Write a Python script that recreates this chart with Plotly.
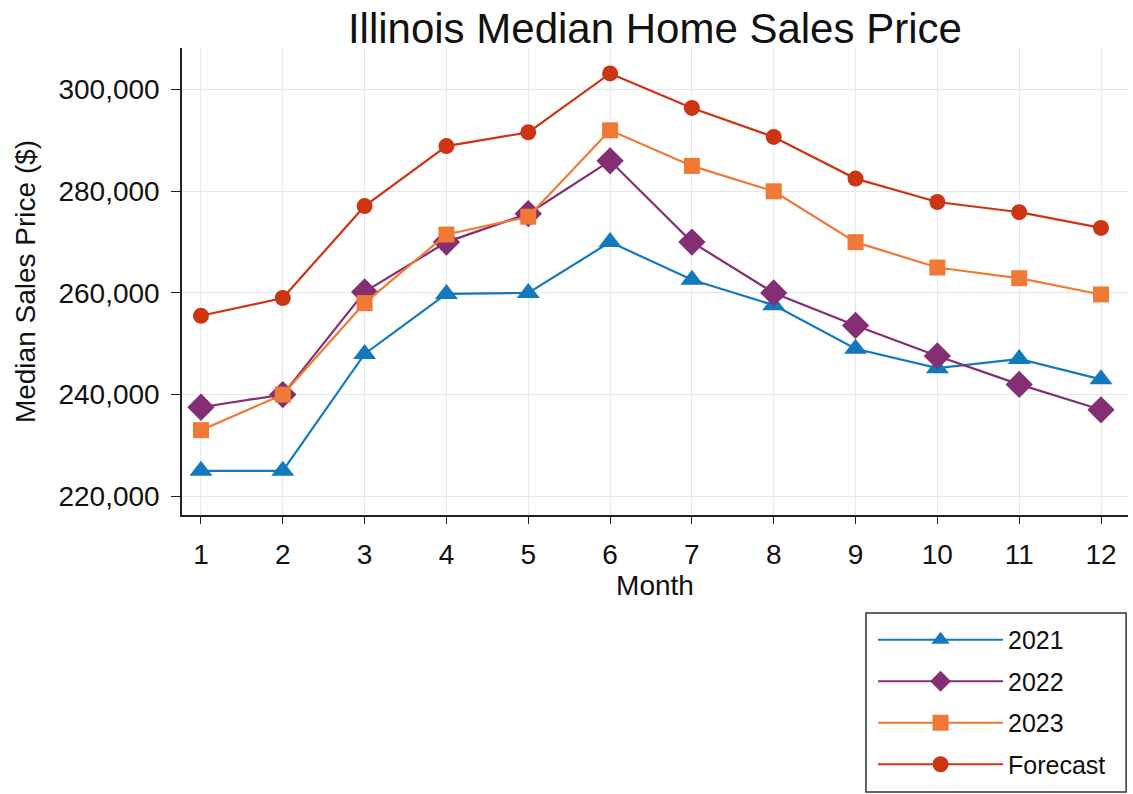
import plotly.graph_objects as go

months = [1, 2, 3, 4, 5, 6, 7, 8, 9, 10, 11, 12]
y2021 = [225000, 225000, 248000, 259800, 260000, 270000, 262600, 257600, 249000, 245200, 247000, 243000]
y2022 = [237500, 240000, 260200, 270000, 275600, 286000, 270000, 260000, 253600, 247600, 242000, 237000]
y2023 = [233000, 240000, 258000, 271500, 275000, 292000, 285000, 280000, 270000, 265000, 262900, 259700]
forecast = [255500, 259000, 277100, 288900, 291600, 303200, 296400, 290700, 282500, 277900, 275900, 272800]
series_names = ["2021", "2022", "2023", "Forecast"]
y_ticks = [220000, 240000, 260000, 280000, 300000]

colors = ["#1379bd", "#852e74", "#f07a35", "#cc3412"]
symbols = ["triangle-up", "diamond", "square", "circle"]
sizes = [20, 21, 16, 16]

fig = go.Figure()
for i, (name, vals) in enumerate(zip(series_names, [y2021, y2022, y2023, forecast])):
    fig.add_trace(go.Scatter(
        x=months, y=vals, name=name, mode="lines+markers",
        line=dict(color=colors[i], width=2.2),
        marker=dict(symbol=symbols[i], size=sizes[i], color=colors[i]),
        legendgroup=name,
    ))

# legend frame (paper coordinates)
fig.add_shape(type="rect", xref="paper", yref="paper",
              x0=0.723, x1=0.998, y0=-0.593, y1=-0.2099,
              line=dict(color="#333333", width=1.5), fillcolor="white", layer="below")

font_family = "Arial, Liberation Sans, sans-serif"
fig.update_layout(
    width=1133, height=794,
    paper_bgcolor="white", plot_bgcolor="white",
    margin=dict(l=182, r=5, t=48, b=279, autoexpand=False),
    font=dict(family=font_family, color="#111111", size=28),
    title=dict(text="Illinois Median Home Sales Price", x=0.578, xanchor="center",
               y=0.9647, yanchor="middle", font=dict(size=42, color="#111111")),
    showlegend=True,
    legend=dict(
        x=0.7305, xanchor="left", y=-0.2184, yanchor="top",
        borderwidth=0, bgcolor="rgba(0,0,0,0)",
        font=dict(size=25), tracegroupgap=6, itemwidth=125,
    ),
)
fig.update_xaxes(
    range=[0.768, 12.33], tickmode="array", tickvals=months,
    showline=True, linecolor="#222222", linewidth=1.5,
    ticks="outside", ticklen=7, tickcolor="#222222", ticklabelstandoff=7,
    showgrid=True, gridcolor="#e8e8e8", gridwidth=1, zeroline=False,
    automargin=False,
    title=dict(text="Month", standoff=0, font=dict(size=28)),
)
fig.update_yaxes(
    range=[216300, 308200], tickmode="array", tickvals=y_ticks,
    tickformat=",d",
    showline=True, linecolor="#222222", linewidth=1.5,
    ticks="outside", ticklen=9, tickcolor="#222222", ticklabelstandoff=6,
    showgrid=True, gridcolor="#e8e8e8", gridwidth=1, zeroline=False,
    automargin=False,
    title=dict(text="Median Sales Price ($)", standoff=15, font=dict(size=28)),
)

fig.write_html("out.html", config={"displayModeBar": False},
               post_script="document.body.style.margin='0';")
